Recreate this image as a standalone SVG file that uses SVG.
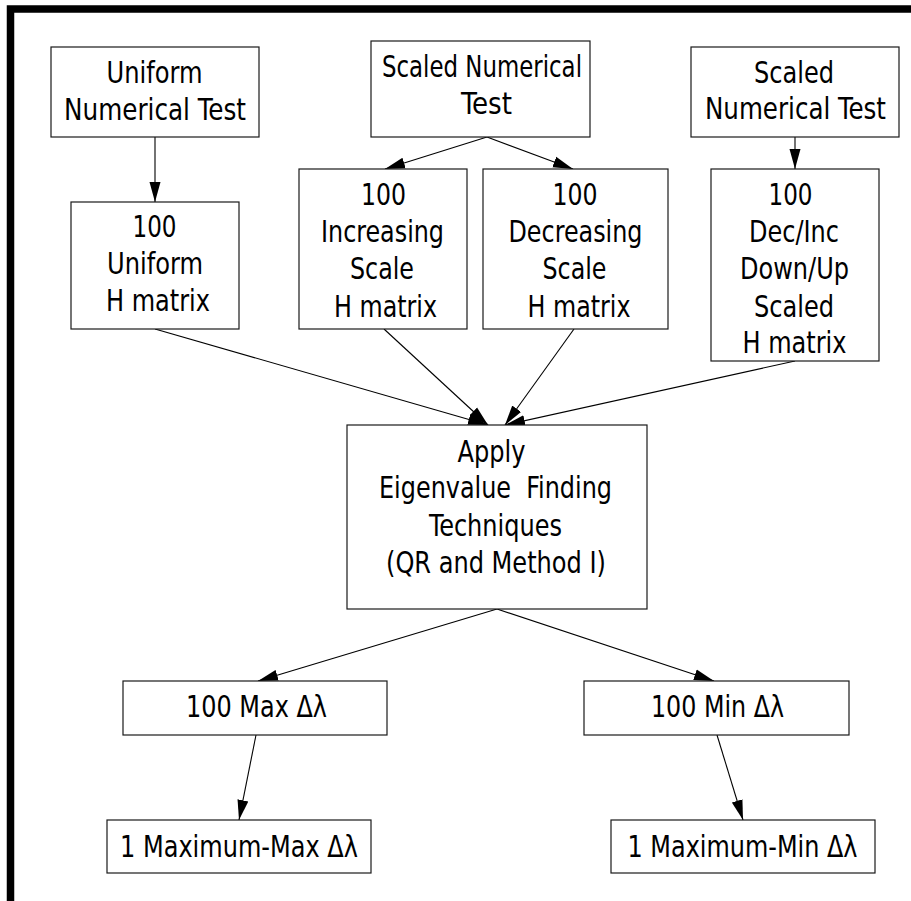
<svg xmlns="http://www.w3.org/2000/svg" width="911" height="901" viewBox="0 0 911 901">
<style>
.box{fill:#ffffff;stroke:#1a1a1a;stroke-width:1.2}
.t{font-family:"DejaVu Sans Condensed","DejaVu Sans",sans-serif;font-stretch:condensed;font-size:29.5px;fill:#000}
.e{fill:none;stroke:#000;stroke-width:1.1;marker-end:url(#ah)}
</style>
<defs>
<marker id="ah" markerUnits="userSpaceOnUse" markerWidth="20" markerHeight="12" refX="20" refY="6" orient="auto">
<path d="M0,0.5 L20,6 L0,11.5 z" fill="#000"/>
</marker>
</defs>
<rect x="0" y="0" width="911" height="901" fill="#ffffff"/>
<path d="M10.5,901 V9 H911" fill="none" stroke="#000" stroke-width="7.5"/>
<g id="edges">
<line class="e" x1="155" y1="137" x2="155" y2="202"/>
<line class="e" x1="487" y1="137" x2="385" y2="169"/>
<line class="e" x1="487" y1="137" x2="573" y2="169"/>
<line class="e" x1="795" y1="137" x2="795" y2="169"/>
<line class="e" x1="155" y1="329" x2="488" y2="425"/>
<line class="e" x1="384" y1="329" x2="488" y2="425"/>
<line class="e" x1="574" y1="329" x2="505" y2="425"/>
<line class="e" x1="795" y1="361" x2="505" y2="425"/>
<line class="e" x1="497" y1="609" x2="258" y2="681"/>
<line class="e" x1="497" y1="609" x2="714" y2="681"/>
<line class="e" x1="256" y1="735" x2="239" y2="820"/>
<line class="e" x1="717" y1="735" x2="743" y2="820"/>
</g>
<g id="uniformTest">
<rect class="box" x="51" y="47" width="208" height="90"/>
<text class="t" x="106.5" y="83" textLength="96" lengthAdjust="spacingAndGlyphs">Uniform</text>
<text class="t" x="64" y="120" textLength="182" lengthAdjust="spacingAndGlyphs">Numerical Test</text>
</g>
<g id="scaledTest1">
<rect class="box" x="371" y="41" width="219" height="96"/>
<text class="t" x="382" y="77" textLength="200" lengthAdjust="spacingAndGlyphs">Scaled Numerical</text>
<text class="t" x="461" y="114" textLength="51" lengthAdjust="spacingAndGlyphs">Test</text>
</g>
<g id="scaledTest2">
<rect class="box" x="691" y="47" width="208" height="90"/>
<text class="t" x="754" y="83" textLength="80" lengthAdjust="spacingAndGlyphs">Scaled</text>
<text class="t" x="705" y="119" textLength="181" lengthAdjust="spacingAndGlyphs">Numerical Test</text>
</g>
<g id="uniformH">
<rect class="box" x="71" y="202" width="168" height="127"/>
<text class="t" x="132.5" y="237" textLength="44" lengthAdjust="spacingAndGlyphs">100</text>
<text class="t" x="107" y="274" textLength="96" lengthAdjust="spacingAndGlyphs">Uniform</text>
<text class="t" x="106" y="311" textLength="104" lengthAdjust="spacingAndGlyphs">H matrix</text>
</g>
<g id="increasingH">
<rect class="box" x="299" y="169" width="168" height="160"/>
<text class="t" x="361" y="205" textLength="45" lengthAdjust="spacingAndGlyphs">100</text>
<text class="t" x="321" y="242" textLength="123" lengthAdjust="spacingAndGlyphs">Increasing</text>
<text class="t" x="350" y="279" textLength="64" lengthAdjust="spacingAndGlyphs">Scale</text>
<text class="t" x="334" y="317" textLength="103" lengthAdjust="spacingAndGlyphs">H matrix</text>
</g>
<g id="decreasingH">
<rect class="box" x="483" y="169" width="185" height="160"/>
<text class="t" x="552.5" y="205" textLength="45" lengthAdjust="spacingAndGlyphs">100</text>
<text class="t" x="508.5" y="242" textLength="134" lengthAdjust="spacingAndGlyphs">Decreasing</text>
<text class="t" x="542.5" y="279" textLength="64" lengthAdjust="spacingAndGlyphs">Scale</text>
<text class="t" x="527.5" y="317" textLength="103" lengthAdjust="spacingAndGlyphs">H matrix</text>
</g>
<g id="decIncH">
<rect class="box" x="711" y="169" width="168" height="192"/>
<text class="t" x="768.5" y="205" textLength="44" lengthAdjust="spacingAndGlyphs">100</text>
<text class="t" x="749" y="242" textLength="90" lengthAdjust="spacingAndGlyphs">Dec/Inc</text>
<text class="t" x="740" y="279" textLength="109" lengthAdjust="spacingAndGlyphs">Down/Up</text>
<text class="t" x="754" y="317" textLength="80" lengthAdjust="spacingAndGlyphs">Scaled</text>
<text class="t" x="742.5" y="353" textLength="104" lengthAdjust="spacingAndGlyphs">H matrix</text>
</g>
<g id="apply">
<rect class="box" x="347" y="425" width="300" height="184"/>
<text class="t" x="457.5" y="462" textLength="68" lengthAdjust="spacingAndGlyphs">Apply</text>
<text class="t" x="379" y="498" textLength="233" lengthAdjust="spacingAndGlyphs" xml:space="preserve">Eigenvalue  Finding</text>
<text class="t" x="429" y="536" textLength="133" lengthAdjust="spacingAndGlyphs">Techniques</text>
<text class="t" x="386" y="573" textLength="220" lengthAdjust="spacingAndGlyphs">(QR and Method I)</text>
</g>
<g id="maxD">
<rect class="box" x="123" y="681" width="264" height="54"/>
<text class="t" x="186" y="717" textLength="141" lengthAdjust="spacingAndGlyphs">100 Max Δλ</text>
</g>
<g id="minD">
<rect class="box" x="584" y="681" width="265" height="54"/>
<text class="t" x="651" y="717" textLength="133" lengthAdjust="spacingAndGlyphs">100 Min Δλ</text>
</g>
<g id="maxMax">
<rect class="box" x="107" y="820" width="264" height="53"/>
<text class="t" x="120" y="857" textLength="238" lengthAdjust="spacingAndGlyphs">1 Maximum-Max Δλ</text>
</g>
<g id="maxMin">
<rect class="box" x="611" y="820" width="264" height="53"/>
<text class="t" x="627.5" y="857" textLength="230" lengthAdjust="spacingAndGlyphs">1 Maximum-Min Δλ</text>
</g>
</svg>
